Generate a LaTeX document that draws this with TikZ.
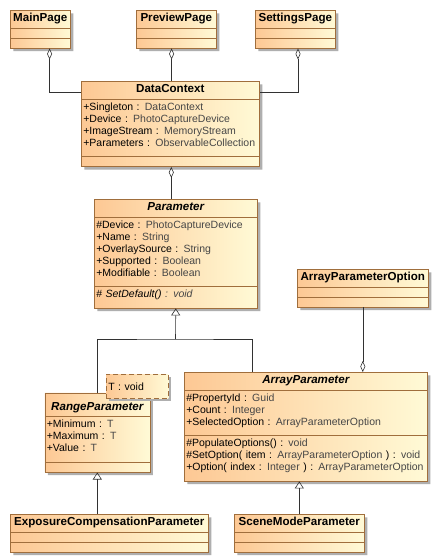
\documentclass[tikz,border=0pt]{standalone}
\usepackage{fontspec}
\setmainfont{Liberation Sans}
\usetikzlibrary{shapes.multipart,shadows,arrows.meta}
\definecolor{umlL}{RGB}{253,200,148}
\definecolor{umlR}{RGB}{255,250,214}
\definecolor{umlB}{RGB}{160,110,60}
\definecolor{umlT}{RGB}{70,70,70}
\definecolor{umlS}{RGB}{175,175,175}
\definecolor{umlC}{RGB}{50,50,50}
\newcommand{\attrfont}{\fontsize{10.5}{12}\selectfont}
\newcommand{\ttlfont}{\fontsize{11.6}{12}\selectfont\bfseries}
\newcommand{\ctrfill}{\hskip0pt plus1filll}
\newcommand{\ttl}[1]{\ctrfill\ttlfont\strut#1\ctrfill\null}
\newcommand{\ittl}[1]{\ctrfill\ttlfont\itshape\strut#1\ctrfill\null}
\newcommand{\emp}{\rule{0pt}{4.5pt}}
\newcommand{\ty}[1]{\textcolor{umlT}{#1}}
\newcommand{\lst}{\rule[-7.6pt]{0pt}{7.6pt}}

\begin{document}
\begin{tikzpicture}[x=1pt,y=-1pt,%
  cls/.style={rectangle split,rectangle split parts=3,anchor=north west,draw=umlB,line width=0.6pt,%
    left color=umlL,right color=umlR,inner xsep=2pt,inner ysep=2.5pt,align=left,font=\attrfont,%
    drop shadow={shadow xshift=3pt,shadow yshift=-3pt,fill=umlS,opacity=1}},%
  tplbox/.style={anchor=north west,draw=umlB,line width=0.6pt,dash pattern=on 5pt off 3pt,%
    left color=umlL,right color=umlR,inner xsep=2pt,inner ysep=0pt,minimum height=24pt,align=left,font=\attrfont,%
    drop shadow={shadow xshift=3pt,shadow yshift=-3pt,fill=umlS,opacity=1}},%
  conn/.style={draw=umlC,line width=0.6pt},%
  agg/.style={conn,{Diamond[open,length=11pt,width=5pt]}-},%
  gen/.style={conn,-{Triangle[open,length=7pt,width=9pt]}}%
  ]
  \path[use as bounding box,fill=white] (0,0) rectangle (438,560);
%
  \node[cls,text width=56pt] (main) at (10,10) {\ttl{MainPage}\nodepart{two}\emp\nodepart{three}\emp};
  \node[cls,text width=76pt] (prev) at (136,10) {\ttl{PreviewPage}\nodepart{two}\emp\nodepart{three}\emp};
  \node[cls,text width=76pt] (set) at (255,10) {\ttl{SettingsPage}\nodepart{two}\emp\nodepart{three}\emp};
%
  \node[cls,text width=174pt] (dc) at (81,81) {\ttl{DataContext}\nodepart{two}%
    \strut+Singleton : \ty{DataContext}\\+Device : \ty{PhotoCaptureDevice}\\%
    +ImageStream : \ty{MemoryStream}\\+Parameters : \ty{ObservableCollection}\lst%
    \nodepart{three}\emp};
%
  \node[cls,text width=159pt] (param) at (94,199) {\ittl{Parameter}\nodepart{two}%
    \strut\#Device : \ty{PhotoCaptureDevice}\\+Name : \ty{String}\\+OverlaySource : \ty{String}\\%
    +Supported : \ty{Boolean}\\+Modifiable : \ty{Boolean}\lst%
    \nodepart{three}\strut\# \textit{SetDefault() \ty{: void}}\lst};
%
  \node[cls,text width=127pt] (apo) at (297,269) {\ttl{ArrayParameterOption}\nodepart{two}\emp\nodepart{three}\emp};
%
  \node[cls,text width=239pt] (arr) at (184,372) {\ittl{ArrayParameter}\nodepart{two}%
    \strut\#PropertyId : \ty{Guid}\\+Count : \ty{Integer}\\+SelectedOption : \ty{ArrayParameterOption}\lst%
    \nodepart{three}\strut\#PopulateOptions() : \ty{void}\\%
    \#SetOption( item : \ty{ArrayParameterOption} ) : \ty{void}\\%
    +Option( index : \ty{Integer} ) : \ty{ArrayParameterOption}\lst};
%
  \node[cls,text width=101pt] (range) at (44.5,392.5) {\ittl{\rule{0pt}{14.5pt}RangeParameter}\nodepart{two}%
    \strut+Minimum : \ty{T}\\+Maximum : \ty{T}\\+Value : \ty{T}\lst%
    \nodepart{three}\emp};
  \node[tplbox,text width=58pt] (tpl) at (106,374) {T : void};
%
  \node[cls,text width=194pt] (ecp) at (10,514) {\ttl{ExposureCompensationParameter}\nodepart{two}\emp\nodepart{three}\emp};
  \node[cls,text width=126pt] (scene) at (234,514) {\ttl{SceneModeParameter}\nodepart{two}\emp\nodepart{three}\emp};
%
  \coordinate (gj) at (175.5,339);
%
  \draw[agg] ([xshift=9.3pt]main.south) |- ([yshift=-11pt]dc.north west);
  \draw[agg] ([xshift=-4.7pt]prev.south) -- ([xshift=-4.7pt]prev.south |- dc.north);
  \draw[agg] ([xshift=2.7pt]set.south) |- ([yshift=-11pt]dc.north east);
  \draw[agg] ([xshift=1pt]dc.south) -- ([xshift=1pt]dc.south |- param.north);
  \draw[agg] (arr.north -| apo.south) -- (apo.south);
%
  \draw[conn] (range.north) |- (gj) -| ([xshift=-53.5pt]arr.north);
  \draw[gen] (gj) -- (param.south);
  \draw[gen] (ecp.north -| range.south) -- (range.south);
  \draw[gen] (scene.north) -- (scene.north |- arr.south);
%
\end{tikzpicture}
\end{document}
